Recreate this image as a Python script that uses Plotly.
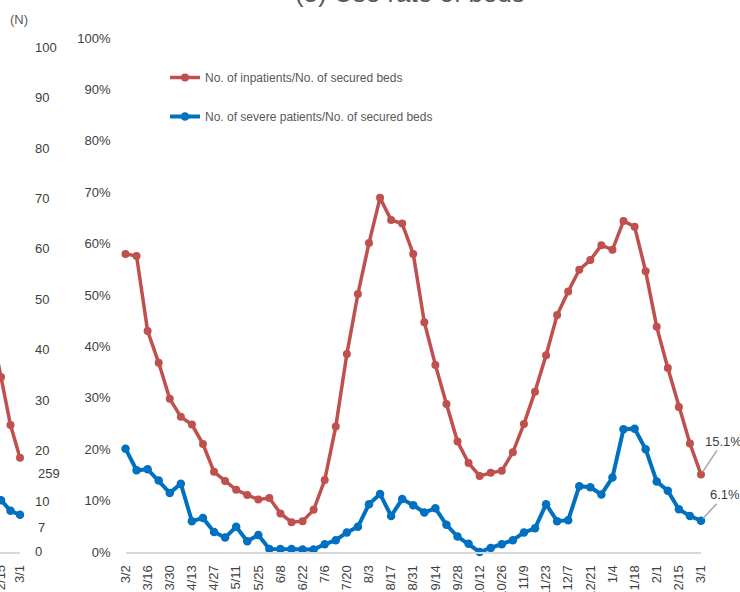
import plotly.graph_objects as go

# weekly dates, 3/2 -> 3/1 of next year
weeks = ['3/2', '3/9', '3/16', '3/23', '3/30', '4/6', '4/13', '4/20', '4/27', '5/4',
         '5/11', '5/18', '5/25', '6/1', '6/8', '6/15', '6/22', '6/29', '7/6', '7/13',
         '7/20', '7/27', '8/3', '8/10', '8/17', '8/24', '8/31', '9/7', '9/14', '9/21',
         '9/28', '10/5', '10/12', '10/19', '10/26', '11/2', '11/9', '11/16', '11/23', '11/30',
         '12/7', '12/14', '12/21', '12/28', '1/4', '1/11', '1/18', '1/25', '2/1', '2/8',
         '2/15', '2/22', '3/1']

inpatients = [58.0, 57.6, 43.0, 36.8, 29.8, 26.3, 24.8, 21.0, 15.6, 13.8,
              12.1, 11.1, 10.2, 10.5, 7.5, 5.8, 6.0, 8.2, 14.0, 24.4,
              38.5, 50.2, 60.1, 68.9, 64.6, 63.9, 58.0, 44.7, 36.4, 28.8,
              21.5, 17.3, 14.8, 15.4, 15.8, 19.4, 24.9, 31.2, 38.3, 46.1,
              50.7, 54.9, 56.8, 59.7, 58.8, 64.4, 63.3, 54.6, 43.8, 35.8,
              28.2, 21.1, 15.1]

severe = [20.1, 15.9, 16.1, 13.9, 11.5, 13.3, 6.0, 6.6, 3.9, 2.8,
          4.9, 2.1, 3.3, 0.6, 0.6, 0.6, 0.5, 0.5, 1.5, 2.3,
          3.8, 4.9, 9.3, 11.3, 7.0, 10.3, 9.1, 7.7, 8.5, 5.3,
          3.0, 1.6, 0.0, 0.8, 1.5, 2.3, 3.8, 4.6, 9.3, 6.0,
          6.2, 12.8, 12.6, 11.2, 14.5, 23.9, 24.0, 20.0, 13.7, 11.9,
          8.3, 7.0, 6.1]

# tail of the neighbouring panel (N), only the last weeks are visible
prev_weeks_idx = [48, 49, 50, 51, 52]
prev_red = [52.0, 43.9, 34.6, 25.1, 18.6]
prev_blue = [14.0, 12.2, 10.2, 8.1, 7.3]
prev_labels = ['259', '7']

W, H = 740, 592
RED = '#C0504D'
BLUE = '#0070C0'
GRAY = '#404040'
AXIS = '#D9D9D9'

idx = list(range(len(weeks)))
tickvals = idx[::2]
ticktext = weeks[::2]

fig = go.Figure()

fig.add_trace(go.Scatter(x=idx, y=inpatients, mode='lines+markers',
                         name='No. of inpatients/No. of secured beds', legendgroup='a',
                         line=dict(color=RED, width=3.5), marker=dict(size=8, color=RED),
                         cliponaxis=False))
fig.add_trace(go.Scatter(x=idx, y=severe, mode='lines+markers',
                         name='No. of severe patients/No. of secured beds', legendgroup='b',
                         line=dict(color=BLUE, width=4), marker=dict(size=8.5, color=BLUE),
                         cliponaxis=False))

# left panel remnants
fig.add_trace(go.Scatter(x=prev_weeks_idx, y=prev_red, mode='lines+markers', xaxis='x2', yaxis='y2',
                         line=dict(color=RED, width=3.5), marker=dict(size=8, color=RED),
                         showlegend=False, cliponaxis=False))
fig.add_trace(go.Scatter(x=prev_weeks_idx, y=prev_blue, mode='lines+markers', xaxis='x2', yaxis='y2',
                         line=dict(color=BLUE, width=4), marker=dict(size=8.5, color=BLUE),
                         showlegend=False, cliponaxis=False))

tickfont = dict(family='Liberation Sans, Arial', size=13, color=GRAY)

fig.update_layout(
    width=W, height=H, autosize=False,
    margin=dict(l=0, r=0, t=0, b=0, autoexpand=False),
    paper_bgcolor='white', plot_bgcolor='white',
    xaxis=dict(domain=[125.5 / W, 701 / W], range=[0, 52], tickvals=tickvals, ticktext=ticktext,
               tickangle=-90, tickfont=tickfont, showgrid=False, zeroline=False, automargin=False,
               showline=True, linecolor=AXIS, linewidth=2, ticks='', ticklabelstandoff=6,
               ticklabeloverflow='allow'),
    yaxis=dict(domain=[(H - 552) / H, (H - 38) / H], range=[0, 100], dtick=10, ticksuffix='%',
               tickfont=tickfont, showgrid=False, zeroline=False, showline=False, automargin=False,
               ticks='', ticklabelstandoff=14),
    xaxis2=dict(domain=[0, 20 / W], range=[52 - 20 / 9.5, 52], anchor='y2',
                tickvals=tickvals, ticktext=ticktext, tickangle=-90, tickfont=tickfont,
                showgrid=False, zeroline=False, showline=True, linecolor=AXIS, linewidth=2,
                ticks='', ticklabelstandoff=6, automargin=False, ticklabeloverflow='allow'),
    yaxis2=dict(domain=[(H - 551.7) / H, (H - 47) / H], range=[0, 100], dtick=10, side='right',
                anchor='x2', tickfont=tickfont, showgrid=False, zeroline=False, showline=False,
                ticks='', ticklabelstandoff=14, automargin=False),
    legend=dict(x=165 / W, y=(H - 63) / H, xanchor='left', yanchor='top',
                font=dict(family='Liberation Sans, Arial', size=12, color='#595959'),
                tracegroupgap=20, bgcolor='rgba(0,0,0,0)'),
    showlegend=True,
)

ann_font = dict(family='Liberation Sans, Arial', size=13, color=GRAY)
fig.add_annotation(x=52, y=inpatients[-1], xref='x', yref='y', text=f'{inpatients[-1]:.1f}%',
                   showarrow=True, arrowhead=0, arrowcolor='#A6A6A6', arrowwidth=1.5,
                   ax=22, ay=-33, font=ann_font, standoff=3)
fig.add_annotation(x=52, y=severe[-1], xref='x', yref='y', text=f'{severe[-1]:.1f}%',
                   showarrow=True, arrowhead=0, arrowcolor='#A6A6A6', arrowwidth=1.5,
                   ax=24, ay=-26, font=ann_font, standoff=3)

# labels left over from the neighbouring panel
fig.add_annotation(x=36 / W, y=(H - 473) / H, xref='paper', yref='paper', text=prev_labels[0],
                   showarrow=False, xanchor='left', yanchor='middle', font=ann_font)
fig.add_annotation(x=36 / W, y=(H - 527) / H, xref='paper', yref='paper', text=prev_labels[1],
                   showarrow=False, xanchor='left', yanchor='middle', font=ann_font)
fig.add_annotation(x=8 / W, y=(H - 19) / H, xref='paper', yref='paper', text='(N)',
                   showarrow=False, xanchor='left', yanchor='middle',
                   font=dict(family='Liberation Sans, Arial', size=13, color='#595959'))

fig.add_annotation(x=410 / W, y=(H + 7) / H, xref='paper', yref='paper', text='(5) Use rate of beds',
                   showarrow=False, xanchor='center', yanchor='middle',
                   font=dict(family='Liberation Sans, Arial', size=26, color='#595959'))

fig.write_html("out.html", config={'displayModeBar': False},
               post_script="document.body.style.margin='0';")
